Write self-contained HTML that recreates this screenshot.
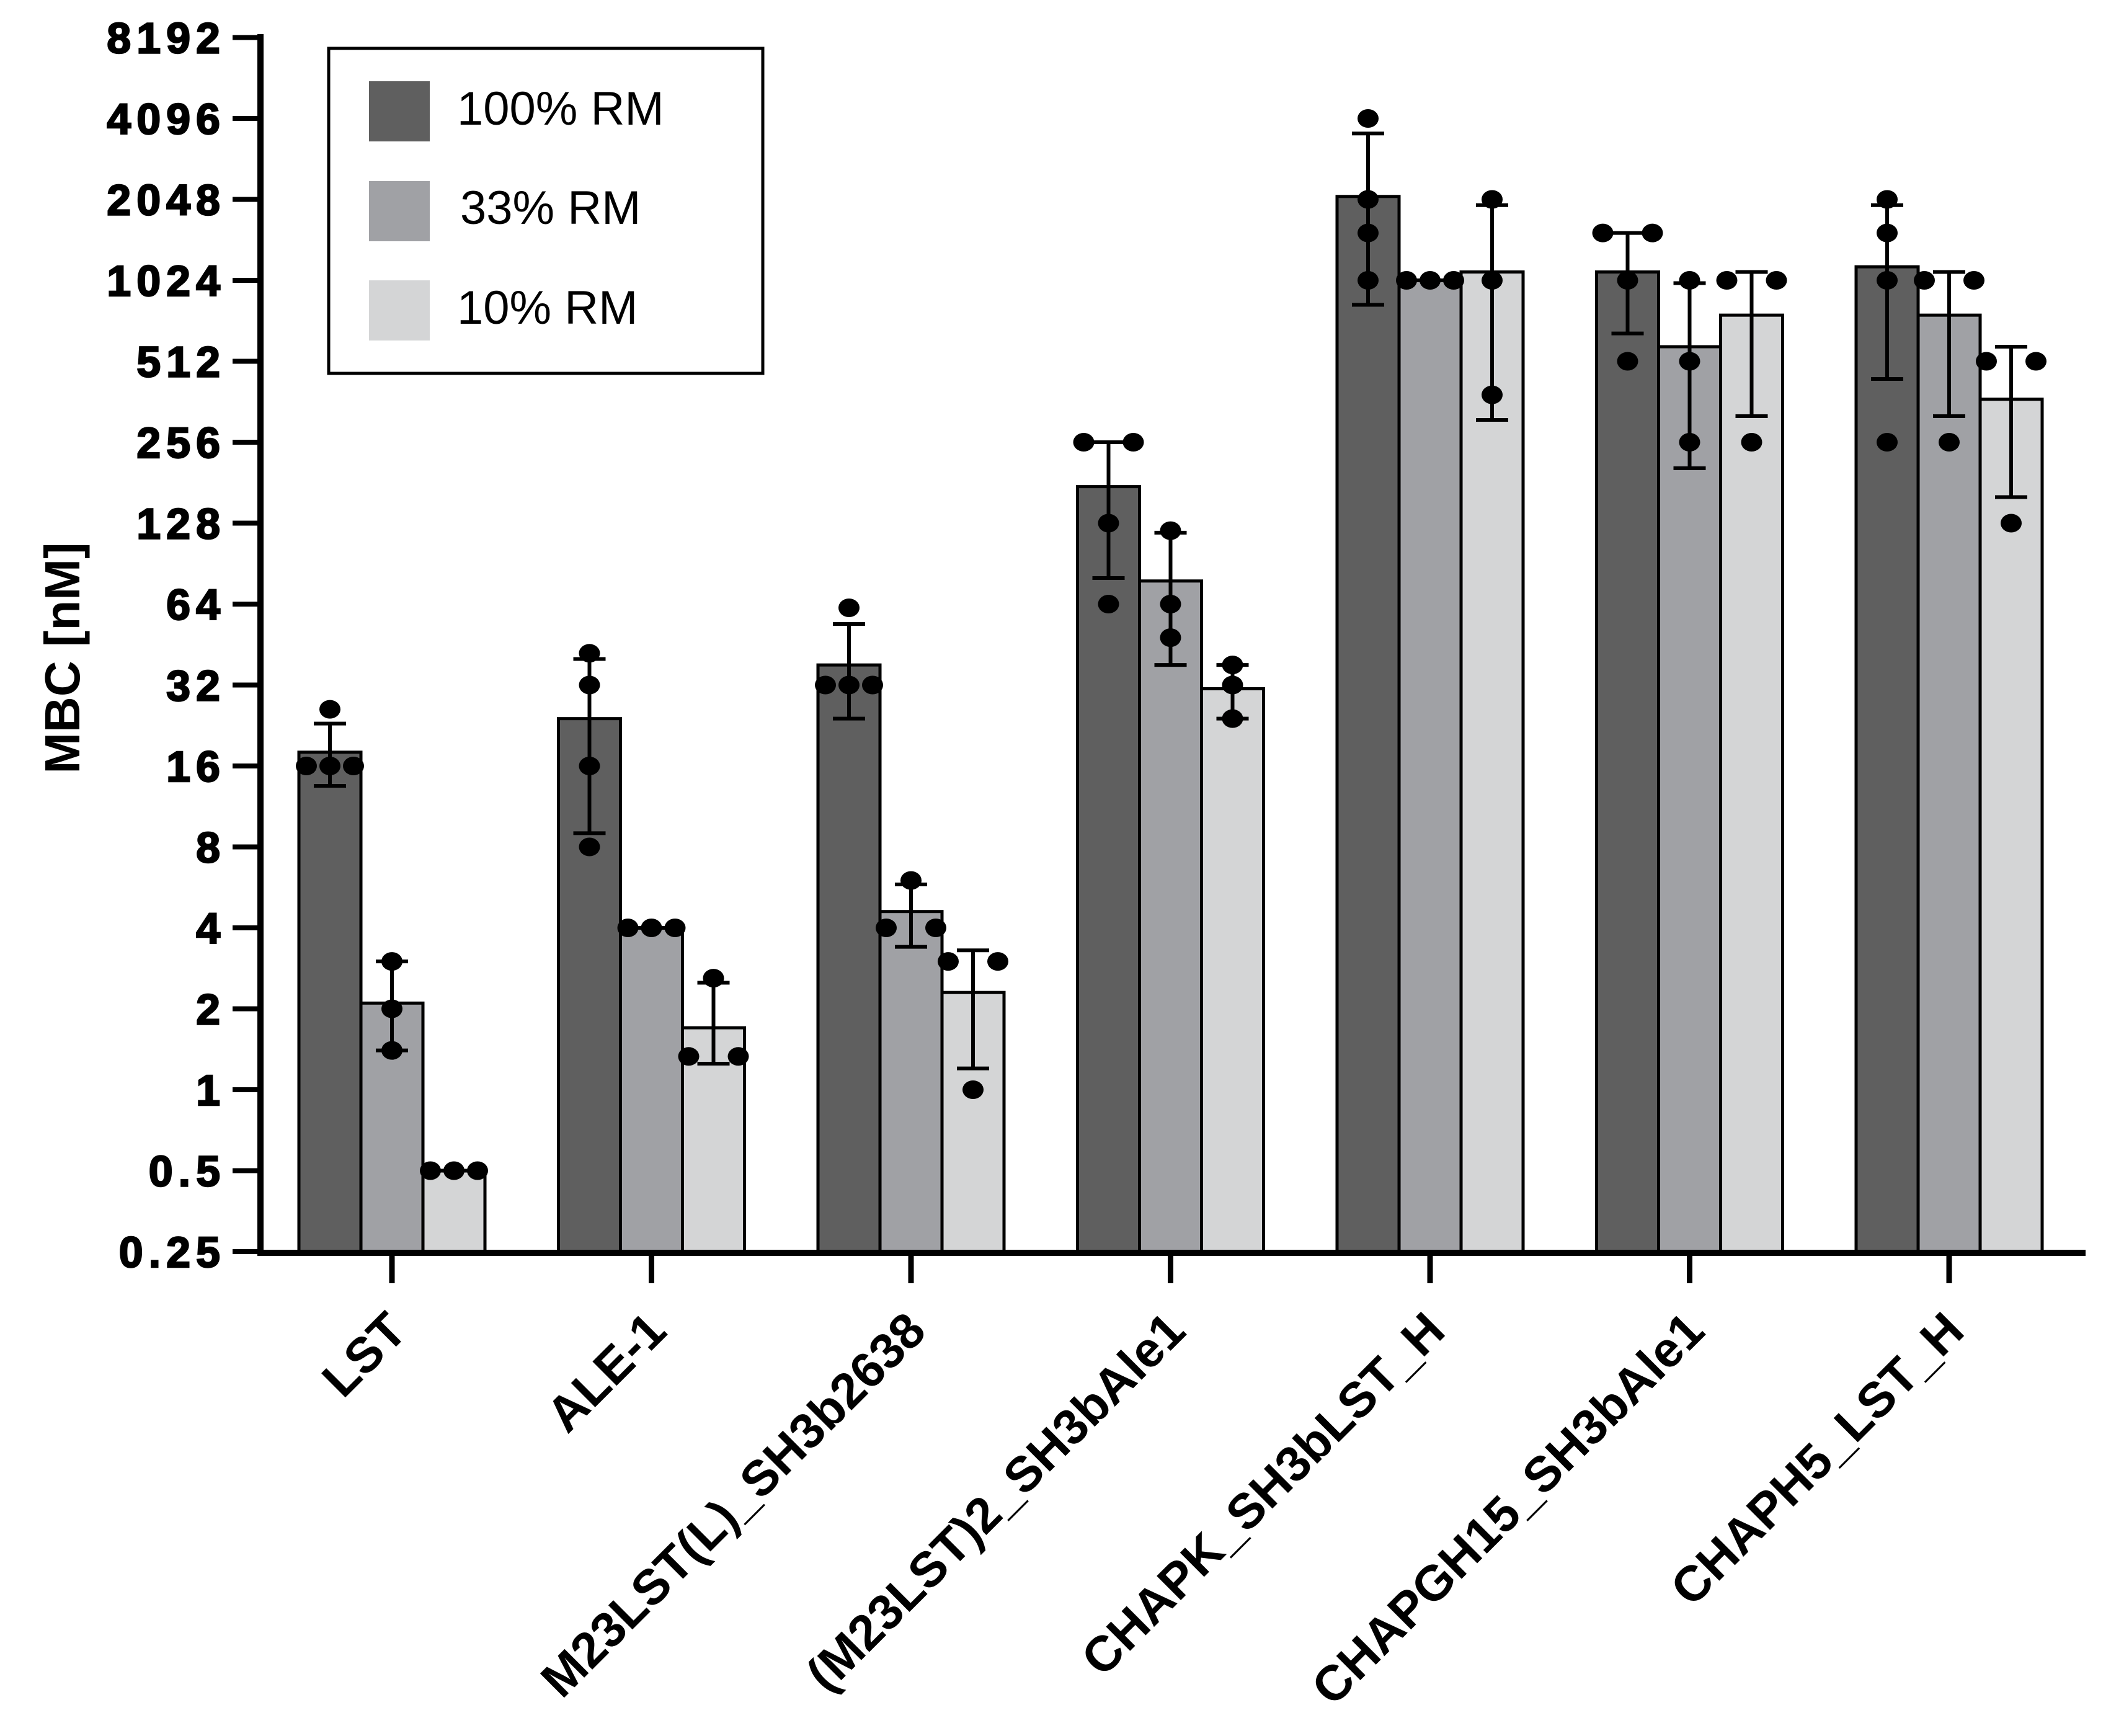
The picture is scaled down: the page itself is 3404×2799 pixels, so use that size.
<!DOCTYPE html>
<html><head><meta charset="utf-8"><style>
html,body{margin:0;padding:0;background:#fff;}
svg{display:block;font-family:"Liberation Sans",Arial,sans-serif;}
</style></head><body>
<svg id="chart" width="3404" height="2799" viewBox="0 0 3404 2799" xmlns="http://www.w3.org/2000/svg">
<g id="plot"></g>
</svg>
<script>
const categories = ["LST","ALE-1","M23LST(L)_SH3b2638","(M23LST)2_SH3bAle1","CHAPK_SH3bLST_H","CHAPGH15_SH3bAle1","CHAPH5_LST_H"];
const seriesNames = ["100% RM","33% RM","10% RM"];
const yTicks = [0.25,0.5,1,2,4,8,16,32,64,128,256,512,1024,2048,4096,8192];
const yTickLabels = ["0.25","0.5","1","2","4","8","16","32","64","128","256","512","1024","2048","4096","8192"];
const mean100 = [18, 24, 38, 175, 2100, 1100, 1150];
const mean33  = [2.1, 4, 4.6, 78, 1024, 580, 760];
const mean10  = [0.5, 1.7, 2.3, 31, 1100, 760, 370];
const errLo100 = [13.5, 9, 24, 80, 830, 650, 440];
const errHi100 = [23, 40, 54, 256, 3600, 1536, 1950];
const errLo33  = [1.4, 4, 3.4, 38, 1024, 205, 320];
const errHi33  = [3, 4, 5.8, 118, 1024, 1000, 1100];
const errLo10  = [0.5, 1.25, 1.2, 24, 310, 320, 160];
const errHi10  = [0.5, 2.5, 3.3, 38, 1950, 1100, 580];
const pts100 = [[16,16,16,26],[8,16,32,42],[32,32,32,62],[64,128,256,256],[1024,1536,2048,4096],[512,1024,1536,1536],[256,1024,1536,2048]];
const pts33  = [[1.4,2,3],[4,4,4],[4,4,6],[48,64,120],[1024,1024,1024],[256,512,1024],[256,1024,1024]];
const pts10  = [[0.5,0.5,0.5],[1.33,1.33,2.6],[1,3,3],[24,32,38],[384,1024,2048],[256,1024,1024],[128,512,512]];
const colors = ["#5f5f5f","#a0a1a5","#d4d5d6"];

const NS="http://www.w3.org/2000/svg";
const g=document.getElementById('plot');
const Y0=2018, STEP=130.5, AXX=420;
function y(v){return Y0-(Math.log2(v)+2)*STEP;}
function gx(i){return 632+i*418.5;}
function mk(tag,at,parent){const e=document.createElementNS(NS,tag);for(const k in at)e.setAttribute(k,at[k]);(parent||g).appendChild(e);return e;}

const means=[mean100,mean33,mean10], los=[errLo100,errLo33,errLo10], his=[errHi100,errHi33,errHi10], pts=[pts100,pts33,pts10];

categories.forEach((c,i)=>{
  for(let s=0;s<3;s++){
    const bx=gx(i)-150+s*100, top=y(means[s][i]);
    const r=mk('rect',{x:bx,y:top,width:100,height:Y0-top,fill:colors[s],stroke:'#000','stroke-width':5});
    
    
  }
});
categories.forEach((c,i)=>{
  for(let s=0;s<3;s++){
    const cx=gx(i)-100+s*100, lo=y(los[s][i]), hi=y(his[s][i]);
    const eg=mk('g',{stroke:'#000','stroke-width':6});
    
    
    mk('line',{x1:cx,y1:lo,x2:cx,y2:hi},eg);
    mk('line',{x1:cx-26,y1:lo,x2:cx+26,y2:lo},eg);
    mk('line',{x1:cx-26,y1:hi,x2:cx+26,y2:hi},eg);
    const arr=pts[s][i];
    const counts={};arr.forEach(v=>counts[v]=(counts[v]||0)+1);
    const seen={};
    arr.forEach(v=>{
      const n=counts[v], k=(seen[v]=(seen[v]||0)+1)-1;
      let off=0;
      if(n===2) off=k===0?-40:40;
      else if(n>=3) off=(k-(n-1)/2)*38;
      const d=mk('ellipse',{cx:cx+off,cy:y(v),rx:17,ry:15,fill:'#000'});
      
      
    });
  }
});
const ya=mk('line',{x1:AXX,y1:55,x2:AXX,y2:Y0+6,stroke:'#000','stroke-width':10});


const xa=mk('line',{x1:AXX-5,y1:Y0+2,x2:3363,y2:Y0+2,stroke:'#000','stroke-width':10});


yTicks.forEach((v,k)=>{
  const t=mk('line',{x1:375,y1:y(v),x2:AXX,y2:y(v),stroke:'#000','stroke-width':8});
  
  
  const tl=mk('text',{x:364,y:y(v)+25,'text-anchor':'end','font-size':70,'font-weight':'bold','letter-spacing':9,stroke:'#000','stroke-width':2.5});
  tl.textContent=yTickLabels[k];
  
  
});
categories.forEach((c,i)=>{
  const t=mk('line',{x1:gx(i),y1:Y0,x2:gx(i),y2:2069,stroke:'#000','stroke-width':9});
  
  
  const px=gx(i)+28, py=2150;
  const tl=mk('text',{x:px,y:py,'text-anchor':'end','font-size':80,'font-weight':'bold',transform:`rotate(-45 ${px} ${py})`});
  tl.textContent=c;
  
  
});
</script>
<svg style="position:absolute;left:0;top:0" width="3404" height="2799" xmlns="http://www.w3.org/2000/svg">
<text x="107" y="1061" text-anchor="middle" dominant-baseline="middle" font-family="Liberation Sans, Arial, sans-serif" font-size="80" font-weight="bold" transform="rotate(-90 107 1061)">MBC [nM]</text>
<g>
<rect x="530" y="78" width="700" height="524" fill="#fff" stroke="#000" stroke-width="5"/>
<rect x="595" y="131" width="98" height="97" fill="#5f5f5f"/>
<rect x="595" y="292" width="98" height="97" fill="#a0a1a5"/>
<rect x="595" y="452" width="98" height="97" fill="#d4d5d6"/>
<text x="737" y="201" font-family="Liberation Sans, Arial, sans-serif" font-size="76">100% RM</text>
<text x="742" y="361" font-family="Liberation Sans, Arial, sans-serif" font-size="76">33% RM</text>
<text x="737" y="522" font-family="Liberation Sans, Arial, sans-serif" font-size="76">10% RM</text>
</g>
</svg>
</body></html>
